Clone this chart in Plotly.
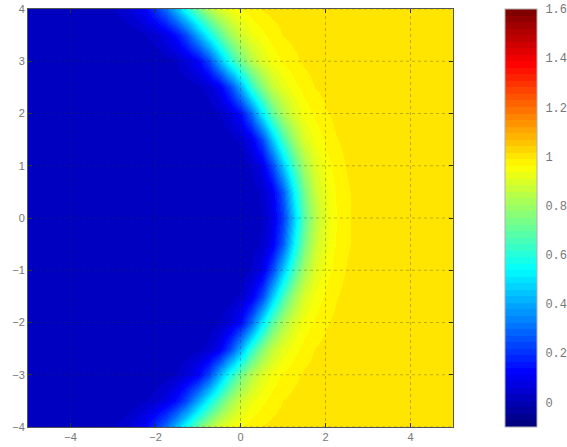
import plotly.graph_objects as go

# Field sampled every 0.25 in x; upper half rows y = 0 .. 4 (field is symmetric in y)
x_vals = [-5.0 + 0.25 * i for i in range(41)]
y_upper = [0.0, 0.5, 1.0, 1.5, 2.0, 2.5, 3.0, 3.5, 4.0]

row_y00 = [0.02] * 18 + [0.017, 0.013, 0.011, 0.013, 0.032, 0.08, 0.22, 0.46, 0.69,
                         0.84, 0.92, 0.96, 0.984, 0.997] + [1.0] * 9
row_y05 = [0.02] * 17 + [0.019, 0.015, 0.012, 0.01, 0.015, 0.04, 0.10, 0.27, 0.53,
                         0.73, 0.87, 0.93, 0.965, 0.985, 0.998] + [1.0] * 9
row_y10 = [0.02] * 16 + [0.019, 0.015, 0.012, 0.01, 0.015, 0.036, 0.086, 0.23, 0.45,
                         0.66, 0.81, 0.905, 0.95, 0.975, 0.992] + [1.0] * 10
row_y15 = [0.02] * 15 + [0.017, 0.014, 0.011, 0.01, 0.018, 0.04, 0.093, 0.23, 0.44,
                         0.65, 0.80, 0.895, 0.942, 0.969, 0.987, 0.997] + [1.0] * 10
row_y20 = [0.02] * 13 + [0.018, 0.014, 0.012, 0.01, 0.013, 0.03, 0.064, 0.14, 0.29,
                         0.51, 0.69, 0.82, 0.90, 0.945, 0.969, 0.986, 0.996] + [1.0] * 11
row_y25 = [0.02] * 11 + [0.018, 0.014, 0.012, 0.01, 0.012, 0.024, 0.047, 0.096, 0.23,
                         0.415, 0.61, 0.76, 0.86, 0.918, 0.952, 0.974, 0.99, 0.998] + [1.0] * 12
row_y30 = [0.02] * 8 + [0.016, 0.013, 0.011, 0.01, 0.011, 0.017, 0.035, 0.068, 0.12,
                        0.24, 0.41, 0.59, 0.73, 0.835, 0.905, 0.944, 0.967, 0.982, 0.994] + [1.0] * 14
row_y35 = [0.02] * 6 + [0.011, 0.011, 0.01, 0.011, 0.015, 0.03, 0.05, 0.083, 0.15, 0.25,
                        0.40, 0.55, 0.68, 0.80, 0.885, 0.93, 0.955, 0.975, 0.99, 0.997] + [1.0] * 15
row_y40 = [0.02] * 4 + [0.01, 0.01, 0.012, 0.017, 0.03, 0.045, 0.075, 0.115, 0.21, 0.30,
                        0.44, 0.58, 0.72, 0.83, 0.897, 0.94, 0.962, 0.978, 0.991, 0.998] + [1.0] * 17

upper_rows = [row_y00, row_y05, row_y10, row_y15, row_y20,
              row_y25, row_y30, row_y35, row_y40]

# Mirror the upper half to get the full field on y = -4 .. 4
y_vals = [-v for v in reversed(y_upper[1:])] + y_upper
z_rows = list(reversed(upper_rows[1:])) + upper_rows

x_ticks = [-4, -2, 0, 2, 4]
y_ticks = [-4, -3, -2, -1, 0, 1, 2, 3, 4]
cbar_ticks = [0, 0.2, 0.4, 0.6, 0.8, 1, 1.2, 1.4, 1.6]
c_min, c_max = -0.1, 1.6


def jet(n):
    cols = []
    for i in range(n):
        t = i / (n - 1)
        r = min(max(1.5 - abs(4 * t - 3), 0), 1)
        g = min(max(1.5 - abs(4 * t - 2), 0), 1)
        b = min(max(1.5 - abs(4 * t - 1), 0), 1)
        cols.append(f"rgb({round(r*255)},{round(g*255)},{round(b*255)})")
    return cols


# 64-level stepped jet colour scale
levels = jet(64)
colorscale = []
for i, c in enumerate(levels):
    colorscale.append([i / 64, c])
    colorscale.append([(i + 1) / 64, c])

fig = go.Figure()
fig.add_trace(go.Heatmap(
    x=x_vals, y=y_vals, z=z_rows,
    zmin=c_min, zmax=c_max,
    colorscale=colorscale,
    zsmooth="best",
    colorbar=dict(
        x=1.1224, xanchor="left", xpad=0,
        y=0.5, yanchor="middle", ypad=0,
        len=1, lenmode="fraction",
        thickness=32,
        outlinewidth=1, outlinecolor="#b0b0b0",
        tickvals=cbar_ticks,
        ticks="outside", ticklen=6, tickcolor="rgba(0,0,0,0)",
        tickfont=dict(family="Liberation Mono", size=12, color="#777777"),
    ),
))

# Dotted grid drawn over the field
grid_style = dict(color="rgba(40,40,40,0.3)", width=1, dash="dot")
for xv in x_ticks:
    fig.add_shape(type="line", xref="x", yref="y", x0=xv, x1=xv, y0=-4, y1=4,
                  line=grid_style, layer="above")
for yv in y_ticks:
    fig.add_shape(type="line", xref="x", yref="y", x0=-5, x1=5, y0=yv, y1=yv,
                  line=grid_style, layer="above")

axis_common = dict(
    showgrid=False, zeroline=False,
    showline=True, linecolor="#555555", linewidth=1, mirror="ticks",
    ticks="inside", ticklen=4, tickcolor="#333333",
    tickfont=dict(family="Liberation Sans", size=11, color="#777777"),
    layer="above traces",
)
fig.update_xaxes(range=[-5, 5], tickvals=x_ticks, **axis_common)
fig.update_yaxes(range=[-4, 4], tickvals=y_ticks, **axis_common)

fig.update_layout(
    width=567, height=447,
    margin=dict(l=28, r=114, t=9, b=20, autoexpand=False),
    paper_bgcolor="white", plot_bgcolor="white",
)

fig.write_html("out.html")
